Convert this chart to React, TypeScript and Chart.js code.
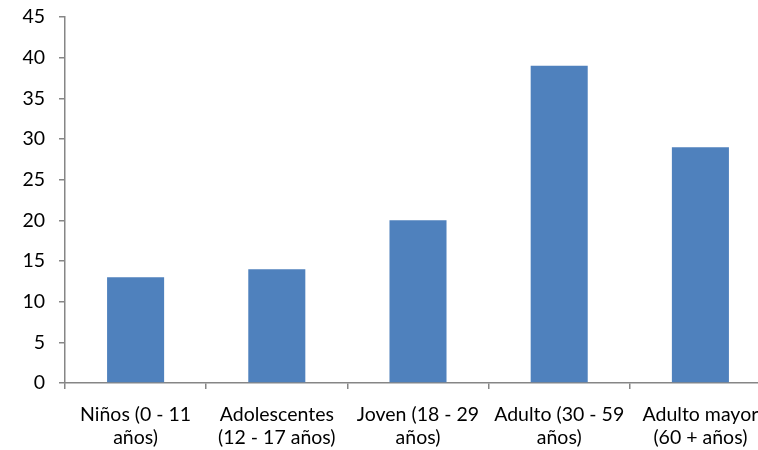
import React, { useEffect, useRef } from "react";
import { Chart, registerables } from "chart.js";

Chart.register(...registerables);

const categories: string[][] = [
  ["Niños (0 - 11", "años)"],
  ["Adolescentes", "(12 - 17 años)"],
  ["Joven (18 - 29", "años)"],
  ["Adulto (30 - 59", "años)"],
  ["Adulto mayor", "(60 + años)"],
];
const values: number[] = [13, 14, 20, 39, 29];
const yMin = 0;
const yMax = 45;
const yStep = 5;

const axisColor = "#868686";
const barColor = "#4F81BD";
const fontFamily = "Lato, 'Open Sans', sans-serif";

export default function App() {
  const ref = useRef<HTMLCanvasElement | null>(null);
  useEffect(() => {
    if (!ref.current) return;
    const chart = new Chart(ref.current, {
      type: "bar",
      data: {
        labels: categories,
        datasets: [
          {
            data: values,
            backgroundColor: barColor,
            borderWidth: 0,
            barPercentage: 0.404,
            categoryPercentage: 1,
          },
        ],
      },
      options: {
        animation: false,
        responsive: false,
        maintainAspectRatio: false,
        layout: { padding: { top: 17, right: 19, left: 0, bottom: 0 } },
        plugins: { legend: { display: false }, tooltip: { enabled: false } },
        scales: {
          x: {
            offset: true,
            grid: {
              display: true,
              offset: true,
              drawOnChartArea: false,
              drawTicks: true,
              tickLength: 6,
              color: axisColor,
              lineWidth: 1.5,
            },
            border: { display: true, color: axisColor, width: 1.5 },
            ticks: {
              color: "#000",
              padding: 15,
              maxRotation: 0,
              autoSkip: false,
              font: { family: fontFamily, size: 19.5, lineHeight: 1.15 },
            },
            afterFit: (s: any) => {
              s.height = 67;
              s.paddingLeft = 0;
              s.paddingRight = 0;
            },
          },
          y: {
            min: yMin,
            max: yMax,
            grid: {
              display: true,
              drawOnChartArea: false,
              drawTicks: true,
              tickLength: 6,
              color: axisColor,
              lineWidth: 1.5,
            },
            border: { display: true, color: axisColor, width: 1.5 },
            ticks: {
              stepSize: yStep,
              color: "#000",
              padding: 14,
              font: { family: fontFamily, size: 19.5 },
            },
            afterFit: (s: any) => {
              s.width = 65;
              s.paddingTop = 0;
              s.paddingBottom = 0;
            },
          },
        },
      },
    });
    return () => chart.destroy();
  }, []);
  return (
    <div
      style={{
        position: "fixed",
        left: 0,
        top: 0,
        width: 758,
        height: 450,
        overflow: "hidden",
        background: "#fff",
      }}
    >
      <canvas ref={ref} width={790} height={450} style={{ display: "block" }} />
    </div>
  );
}
